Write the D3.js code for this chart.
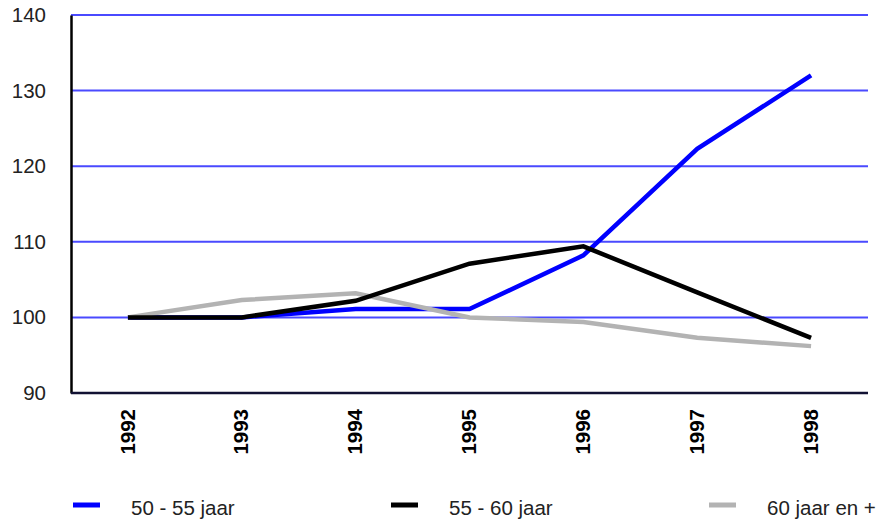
<!DOCTYPE html>
<html><head><meta charset="utf-8">
<script src="https://cdn.jsdelivr.net/npm/d3@7"></script>
<style>body{margin:0;background:#fff;} svg{display:block;}</style>
</head><body>
<svg id="chart" width="893" height="519"></svg>
<script>
const years = ["1992","1993","1994","1995","1996","1997","1998"];
const seriesNames = ["50 - 55 jaar","55 - 60 jaar","60 jaar en +"];
const s50_55 = [100, 100, 101.1, 101.1, 108.2, 122.3, 132];
const s55_60 = [100, 100, 102.2, 107.1, 109.4, 103.3, 97.3];
const s60plus = [100, 102.3, 103.2, 100, 99.4, 97.3, 96.2];
const yTicks = [90, 100, 110, 120, 130, 140];
const colors = ["#0000ff", "#000000", "#b3b3b3"];

const svg = d3.select("#chart");
const m = {l: 71, r: 25, t: 15, b: 126};
const W = 893, H = 519;
const x = d3.scalePoint().domain(years).range([m.l, W - m.r]).padding(0.5);
const y = d3.scaleLinear().domain([90, 140]).range([H - m.b, m.t]);

// gridlines
svg.append("g").selectAll("line").data(yTicks.filter(d => d > 90)).join("line")
  .attr("x1", m.l).attr("x2", W - m.r)
  .attr("y1", d => y(d)).attr("y2", d => y(d))
  .attr("stroke", "#4a4aff").attr("stroke-width", 2);

// y axis
const yAxis = svg.append("g").attr("transform", `translate(${m.l},0)`)
  .call(d3.axisLeft(y).tickValues(yTicks).tickSize(0).tickPadding(25));
yAxis.select(".domain").attr("stroke", "#000").attr("stroke-width", 2.5);
yAxis.selectAll("text").attr("font-family", "Liberation Sans, Arial, sans-serif")
  .attr("font-size", 20.5).attr("fill", "#222");

// x axis
const xAxis = svg.append("g").attr("transform", `translate(0,${H - m.b})`)
  .call(d3.axisBottom(x).tickSize(0).tickPadding(0));
xAxis.select(".domain").attr("d", `M${m.l},0H${W - m.r}`).attr("stroke", "#111133").attr("stroke-width", 2.5);
xAxis.selectAll("text")
  .attr("font-family", "Liberation Sans, Arial, sans-serif")
  .attr("font-size", 20.5).attr("font-weight", "bold").attr("fill", "#000")
  .attr("text-anchor", "end").attr("dy", "0.35em")
  .attr("transform", "translate(-1,16) rotate(-90)")
  .attr("x", 0).attr("y", 0);

// lines
const data = [s50_55, s55_60, s60plus];
const line = d3.line().x((d, i) => x(years[i])).y(d => y(d));
const order = [0, 2, 1];
svg.append("g").selectAll("path").data(order).join("path")
  .attr("d", i => line(data[i]))
  .attr("fill", "none").attr("stroke", i => colors[i]).attr("stroke-width", 4.5)
  .attr("stroke-linejoin", "miter");

// legend
const legX = [73, 391, 709];
const lg = svg.append("g").selectAll("g").data(seriesNames).join("g")
  .attr("transform", (d, i) => `translate(${legX[i]},505)`);
lg.append("line").attr("x1", 0).attr("x2", 27).attr("y1", 0).attr("y2", 0)
  .attr("stroke", (d, i) => colors[i]).attr("stroke-width", 5);
lg.append("text").attr("x", 58).attr("y", 3).attr("dy", "0.35em")
  .attr("font-family", "Liberation Sans, Arial, sans-serif").attr("font-size", 20.5)
  .attr("fill", "#222").text(d => d);
</script>
</body></html>
